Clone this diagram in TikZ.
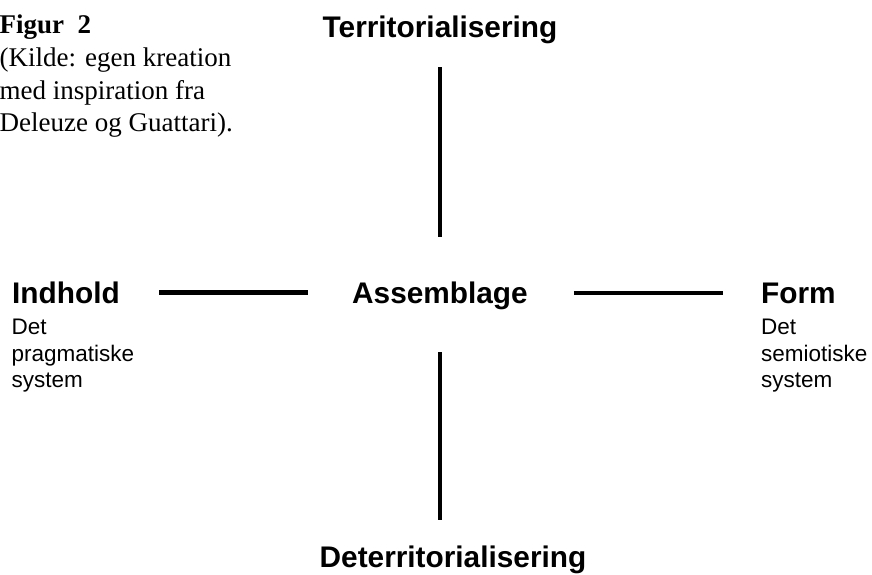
\documentclass[tikz,border=0pt]{standalone}
\usepackage{fontspec}
\setmainfont{Liberation Serif}
\setsansfont{Liberation Sans}

\begin{document}
\begin{tikzpicture}[x=1pt,y=-1pt,
  lbl/.style={font=\sffamily\bfseries\fontsize{29.8}{34}\selectfont,inner sep=0pt,anchor=base},
  desc/.style={font=\sffamily\fontsize{22.5}{26.5}\selectfont,inner sep=0pt,align=left,anchor=north west},
  kilde/.style={font=\fontsize{27}{32.6}\selectfont,inner sep=0pt,align=left,anchor=north west},
  linje/.style={line width=4.5pt}]
\useasboundingbox (0,0) rectangle (872,574);
\node[kilde] at (-0.5,15) (fig) {\textbf{Figur~~2}\\(Kilde: egen kreation\\med inspiration fra\\Deleuze og Guattari).};
\node[lbl] at (440,37) (T) {Territorialisering};
\node[lbl] at (440,303) (A) {Assemblage};
\node[lbl] at (453,567) (D) {Deterritorialisering};
\node[lbl,anchor=base west] at (12,303) (I) {Indhold};
\node[lbl,anchor=base west] at (761,303) (F) {Form};
\node[desc] at (11.5,319) (I1) {Det\\pragmatiske\\system};
\node[desc] at (761,319) (F1) {Det\\semiotiske\\system};
\draw[linje,shorten <=23.8pt,shorten >=43.9pt] (T.south) -- (A.north);
\draw[linje,shorten <=42.8pt,shorten >=24.9pt] (A.south) -- (A.south |- D.north);
\draw[linje,shorten <=39.5pt,shorten >=44pt] (I.east) -- (I.east -| A.west);
\draw[linje,shorten <=46pt,shorten >=38pt] (F.west -| A.east) -- (F.west);
\end{tikzpicture}
\end{document}
